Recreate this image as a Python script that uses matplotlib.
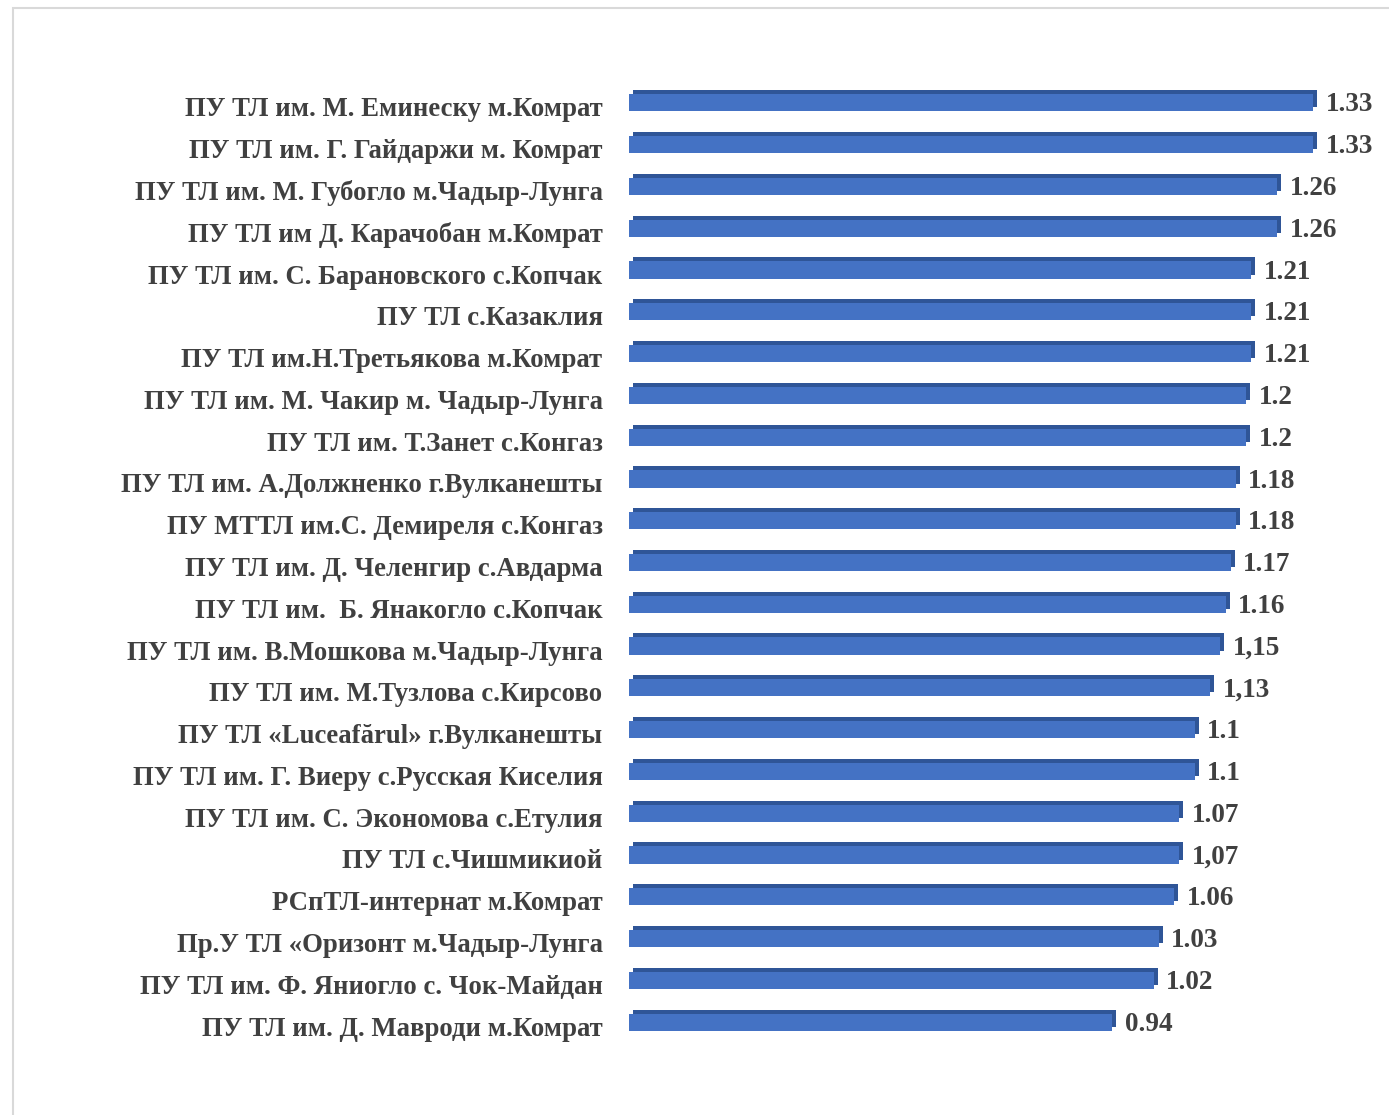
import numpy as np
import matplotlib.pyplot as plt
from matplotlib.transforms import ScaledTranslation
from matplotlib.patches import Rectangle

schools = [
    "ПУ ТЛ им. М. Еминеску м.Комрат",
    "ПУ ТЛ им. Г. Гайдаржи м. Комрат",
    "ПУ ТЛ им. М. Губогло м.Чадыр-Лунга",
    "ПУ ТЛ им Д. Карачобан м.Комрат",
    "ПУ ТЛ им. С. Барановского с.Копчак",
    "ПУ ТЛ с.Казаклия",
    "ПУ ТЛ им.Н.Третьякова м.Комрат",
    "ПУ ТЛ им. М. Чакир м. Чадыр-Лунга",
    "ПУ ТЛ им. Т.Занет с.Конгаз",
    "ПУ ТЛ им. А.Должненко г.Вулканешты",
    "ПУ МТТЛ им.С. Демиреля с.Конгаз",
    "ПУ ТЛ им. Д. Челенгир с.Авдарма",
    "ПУ ТЛ им.  Б. Янакогло с.Копчак",
    "ПУ ТЛ им. В.Мошкова м.Чадыр-Лунга",
    "ПУ ТЛ им. М.Тузлова с.Кирсово",
    "ПУ ТЛ «Luceafărul» г.Вулканешты",
    "ПУ ТЛ им. Г. Виеру с.Русская Киселия",
    "ПУ ТЛ им. С. Экономова с.Етулия",
    "ПУ ТЛ с.Чишмикиой",
    "РСпТЛ-интернат м.Комрат",
    "Пр.У ТЛ «Оризонт м.Чадыр-Лунга",
    "ПУ ТЛ им. Ф. Яниогло с. Чок-Майдан",
    "ПУ ТЛ им. Д. Мавроди м.Комрат",
]
values = [1.33, 1.33, 1.26, 1.26, 1.21, 1.21, 1.21, 1.2, 1.2, 1.18, 1.18, 1.17,
          1.16, 1.15, 1.13, 1.1, 1.1, 1.07, 1.07, 1.06, 1.03, 1.02, 0.94]
value_labels = ["1.33", "1.33", "1.26", "1.26", "1.21", "1.21", "1.21", "1.2", "1.2",
                "1.18", "1.18", "1.17", "1.16", "1,15", "1,13", "1.1", "1.1", "1.07",
                "1,07", "1.06", "1.03", "1.02", "0.94"]

W, H = 1389, 1115
fig = plt.figure(figsize=(W / 100, H / 100), dpi=100)
plt.rcParams['font.family'] = ['Liberation Serif', 'DejaVu Serif']

# light frame of the chart area
fig.patches.append(Rectangle((13 / W, -0.1), 1.2, (H - 8) / H + 0.1,
                             transform=fig.transFigure, fill=False,
                             edgecolor="#d9d9d9", linewidth=1.5))

ax = fig.add_axes([629 / W, (H - 1043) / H, 720 / W, 961 / H])
y = np.arange(len(values))
front = "#4472c4"
dark = "#2f5597"
bh = 0.41

# depth: a darker copy shifted up/right behind the front face
shift = ScaledTranslation(4 / 100, 4 / 100, fig.dpi_scale_trans)
ax.barh(y, values, height=bh, color=dark, transform=ax.transData + shift, zorder=1)
ax.barh(y, values, height=bh, color=front, zorder=2)

for yi, v, lab in zip(y, values, value_labels):
    ax.annotate(lab, (v, yi), xytext=(9, -1.5), textcoords="offset points",
                va="center", ha="left", fontsize=19.5, fontweight="bold",
                color="#404040")

ax.set_xlim(0, 1.4)
ax.set_ylim(len(values) - 0.5, -0.5)
ax.set_yticks(y)
ax.set_yticklabels(schools, fontsize=19.3, fontweight="bold", color="#404040")
ax.tick_params(axis="y", length=0, pad=19)
down = ScaledTranslation(0, -4 / 100, fig.dpi_scale_trans)
for t in ax.get_yticklabels():
    t.set_transform(t.get_transform() + down)
ax.set_xticks([])
for s in ax.spines.values():
    s.set_visible(False)

plt.savefig("out.png", dpi=100)
